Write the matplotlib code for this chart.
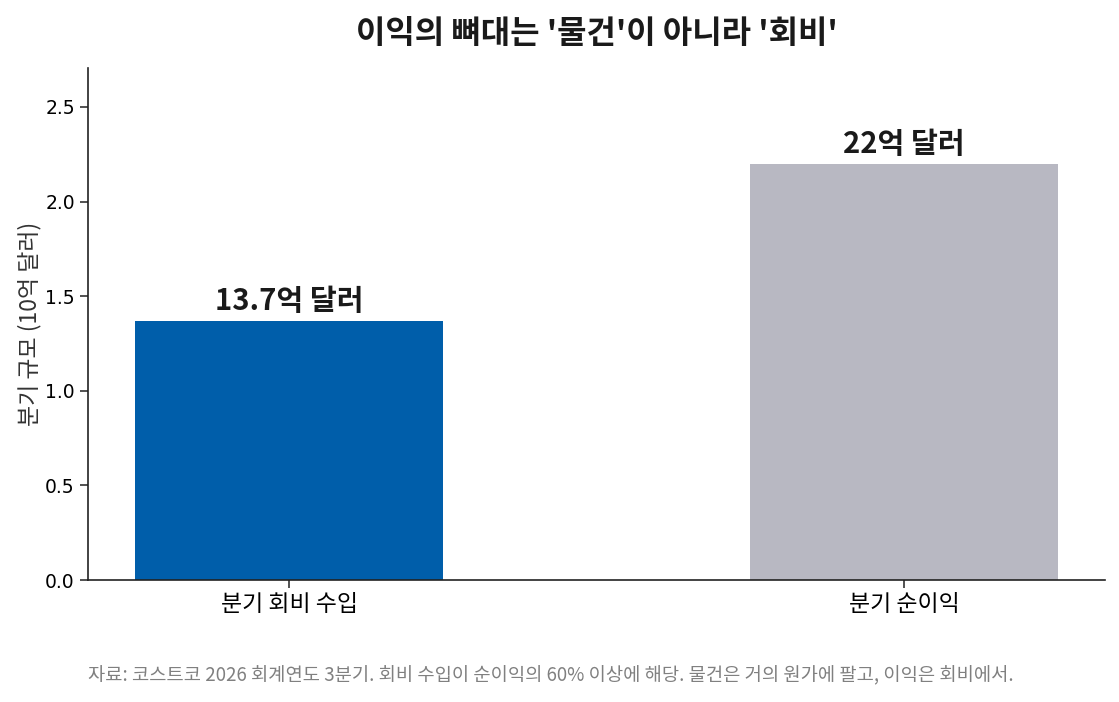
import matplotlib
matplotlib.use("Agg")
import matplotlib.pyplot as plt

categories = ["분기 회비 수입", "분기 순이익"]
values = [1.37, 2.2]
bar_labels = ["13.7억 달러", "22억 달러"]
colors = ["#005EAA", "#B8B8C2"]
title = "이익의 뼈대는 '물건'이 아니라 '회비'"
ylabel = "분기 규모 (10억 달러)"
footnote = "자료: 코스트코 2026 회계연도 3분기. 회비 수입이 순이익의 60% 이상에 해당. 물건은 거의 원가에 팔고, 이익은 회비에서."

KR = ["Noto Sans CJK KR", "DejaVu Sans"]
plt.rcParams["font.family"] = KR

fig = plt.figure(figsize=(11.19, 7.02), dpi=100)
ax = fig.add_axes([88/1119, 1-580/702, (1105-88)/1119, (580-68)/702])

x = list(range(len(categories)))
bars = ax.bar(x, values, width=0.5, color=colors)
for b, lab in zip(bars, bar_labels):
    ax.text(b.get_x() + b.get_width()/2, b.get_height() + 0.025, lab,
            ha="center", va="bottom", fontsize=21, fontweight="bold", color="#1a1a1a")

ax.set_xlim(-0.327, 1.327)
ax.set_ylim(0, 2.706)
ax.set_yticks([0, 0.5, 1.0, 1.5, 2.0, 2.5])
ax.set_yticklabels(["0.0", "0.5", "1.0", "1.5", "2.0", "2.5"], fontfamily="DejaVu Sans", fontsize=13.5)
ax.set_xticks(x)
ax.set_xticklabels(categories, fontsize=16.5)
ax.tick_params(axis="both", length=6, width=1.1, color="#222222")
ax.set_ylabel(ylabel, fontsize=16.5, color="#333333", labelpad=3)
for s in ["top", "right"]:
    ax.spines[s].set_visible(False)
for s in ["left", "bottom"]:
    ax.spines[s].set_color("#222222")
    ax.spines[s].set_linewidth(1.2)

ax.set_title(title, fontsize=23, fontweight="bold", color="#1a1a1a", pad=18)
fig.text(88/1119, 1-676/702, footnote, ha="left", va="center", fontsize=13.5, color="#808080")

fig.savefig("out.png", dpi=100)
